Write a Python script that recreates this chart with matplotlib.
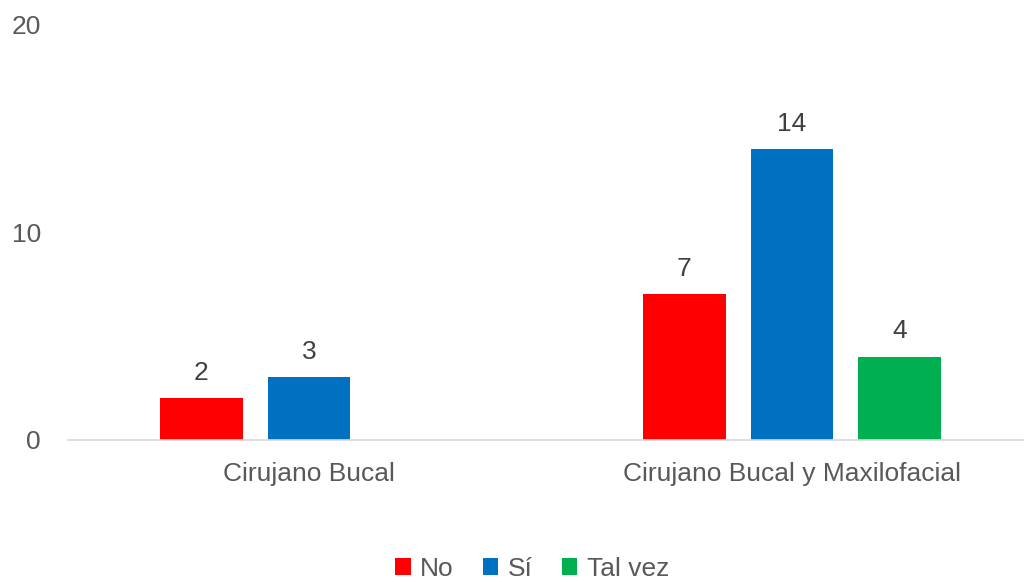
import matplotlib
matplotlib.use("Agg")
import matplotlib.pyplot as plt
import numpy as np

categories = ["Cirujano Bucal", "Cirujano Bucal y Maxilofacial"]
series_names = ["No", "Sí", "Tal vez"]
no_vals = [2, 7]
si_vals = [3, 14]
talvez_vals = [0, 4]
yticks = [0, 10, 20]

colors = ["#FF0000", "#0070C0", "#00B050"]
text_color = "#595959"

plt.rcParams["font.family"] = ["Liberation Sans", "DejaVu Sans"]

fig = plt.figure(figsize=(10.24, 5.82), dpi=100)
ax = fig.add_axes([67.5 / 1024, 142.5 / 582, 966 / 1024, 414.5 / 582])

x = np.arange(len(categories))
width = 0.171
step = 0.2226
series = [no_vals, si_vals, talvez_vals]
for i, (name, vals, c) in enumerate(zip(series_names, series, colors)):
    pos = x + (i - 1) * step
    ax.bar(pos, vals, width=width, color=c, label=name, zorder=2)
    for p, v in zip(pos, vals):
        if v > 0:
            ax.text(p, v + 0.65, str(v), ha="center", va="bottom",
                    fontsize=19, color="#404040")

ax.set_xlim(-0.5, 1.5)
ax.set_ylim(0, 20)
ax.set_yticks(yticks)
ax.set_xticks(x)
ax.set_xticklabels(categories)
ax.tick_params(axis="both", length=0, labelsize=19, labelcolor=text_color)
ax.tick_params(axis="y", pad=19)
ax.tick_params(axis="x", pad=16)

for s in ["left", "right", "top"]:
    ax.spines[s].set_visible(False)
ax.spines["bottom"].set_color("#D9D9D9")
ax.spines["bottom"].set_linewidth(1.2)

fig.legend(loc="center", bbox_to_anchor=(532 / 1024, 1 - 569 / 582),
           ncol=3, frameon=False, fontsize=19, handlelength=0.6,
           handleheight=0.6, handletextpad=0.35, columnspacing=1.1,
           labelcolor=text_color)

fig.savefig("out.png", dpi=100)
